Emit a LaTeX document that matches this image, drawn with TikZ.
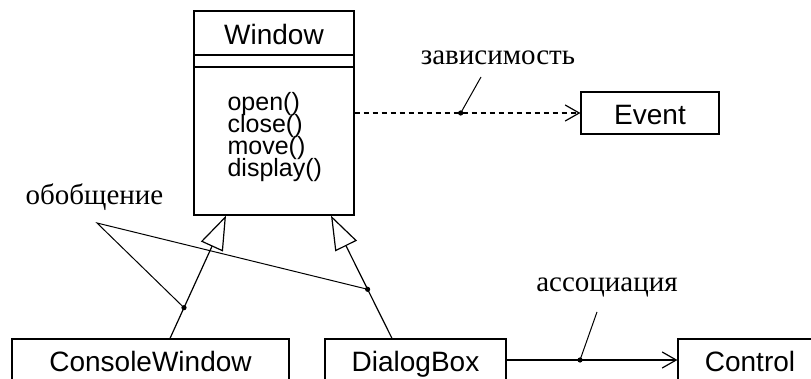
\documentclass[tikz,border=0pt]{standalone}
\usepackage{fontspec}
\setmainfont{Liberation Sans}
\newfontfamily\notefont{Liberation Serif}
\usetikzlibrary{arrows.meta}
\tikzset{
  classbox/.style={draw,rectangle,inner sep=0pt,minimum height=21pt,
    text height=12pt,text depth=0pt,font=\fontsize{14}{16}\selectfont},
  classname/.style={inner sep=0pt,text height=12pt,text depth=0pt,
    font=\fontsize{14}{16}\selectfont},
  method/.style={anchor=base west,inner sep=0pt,font=\fontsize{12.5}{11}\selectfont},
  note/.style={anchor=base,inner sep=0pt,font=\notefont\fontsize{14.5}{16}\selectfont},
  joint/.style={circle,fill,inner sep=0pt,minimum size=2.6pt},
  leader/.style={line width=0.5pt},
  depend/.style={dash pattern=on 2.5pt off 2pt,-{Straight Barb[length=7pt,width=8pt]}},
  assoc/.style={-{Straight Barb[length=7pt,width=8pt]}},
  generalize/.style={-{Triangle[open,length=17pt,width=12pt]}}
}
\newcommand{\umlclass}[4][]{\node[classbox,#1] at (#2) (#3) {#4}}

\begin{document}
\begin{tikzpicture}[x=0.5pt,y=-0.5pt,line width=0.6pt]
  \useasboundingbox (0,0) rectangle (811,379);
  \clip (0,0) rectangle (811,379);

  % classes
  \umlclass[minimum width=80pt,minimum height=102pt]{274,113}{win}{};
  \node[classname] (wintitle) at (274,33) {Window};
  \draw (win.west |- 0,55) -- (win.east |- 0,55)
        (win.west |- 0,67) -- (win.east |- 0,67);
  \foreach \m [count=\i] in {open(),close(),move(),display()}
    \node[method] (m\i) at (227,89+22*\i) {\m};

  \umlclass[minimum width=69pt]{650,113}{event}{Event};
  \umlclass[minimum width=138.5pt]{150.5,360}{cwin}{ConsoleWindow};
  \umlclass[minimum width=90.5pt]{415.5,360}{dialog}{DialogBox};
  \umlclass[minimum width=72pt]{750,360}{control}{Control};

  % relations
  \draw[depend] (win.east) -- node[joint,pos=0.47] (depdot) {} (event.west);
  \draw[assoc] (dialog.east) -- node[joint,pos=0.43] (assocdot) {} (control.west);
  \draw[generalize] (cwin.north -| 170,0) -- node[joint,pos=0.25] (gendot1) {} (win.south -| 226,0);
  \draw[generalize] (dialog.north -| 392,0) -- node[joint,pos=0.4] (gendot2) {} (win.south -| 331,0);

  % notes
  \node[note] (deplabel) at (498,65) {зависимость};
  \node[note] (genlabel) at (94.5,205) {обобщение};
  \node[note] (assoclabel) at (607,292) {ассоциация};
  \coordinate (deptip) at (481,77);
  \coordinate (genroot) at (97,223);
  \coordinate (assoctip) at (597,312);
  \draw[leader] (depdot.center) -- (deptip)
                (gendot1.center) -- (genroot) -- (gendot2.center)
                (assocdot.center) -- (assoctip);
\end{tikzpicture}
\end{document}
